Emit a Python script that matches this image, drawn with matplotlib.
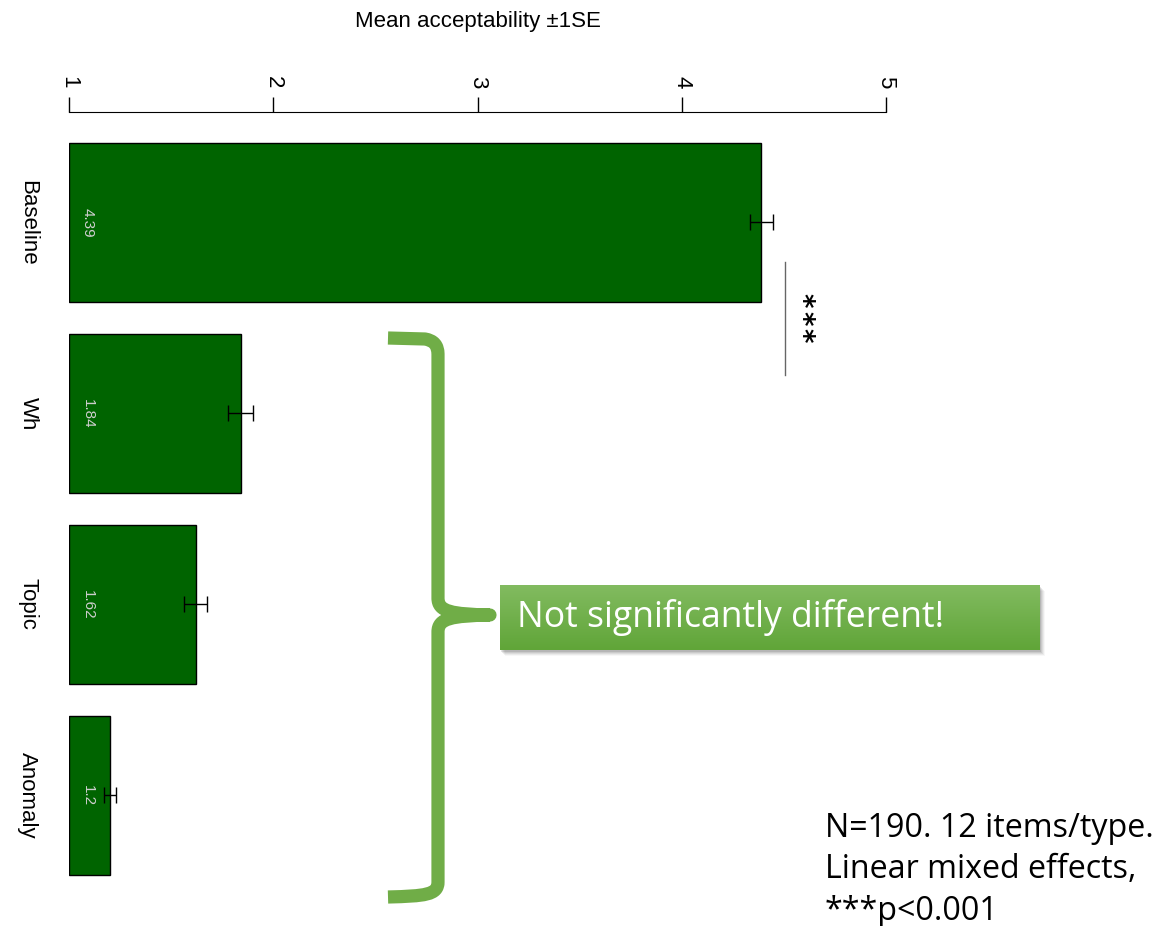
import numpy as np
import matplotlib
matplotlib.use('Agg')
import matplotlib.pyplot as plt
from matplotlib.path import Path
from matplotlib.patches import PathPatch, Rectangle

# data
conditions = ['Baseline', 'Wh', 'Topic', 'Anomaly']
means = [4.39, 1.84, 1.62, 1.2]
se = [0.055, 0.06, 0.055, 0.03]
ticks = [1, 2, 3, 4, 5]

fig = plt.figure(figsize=(11.71, 9.26), dpi=100)
ax = fig.add_axes([69/1171, 1 - 910/926, (886 - 69)/1171, (910 - 112)/926])

ypos = np.arange(len(conditions))
ax.barh(ypos, [m - 1 for m in means], left=1, height=0.83,
        color='#006400', edgecolor='black', lw=1, zorder=2)
ax.errorbar(means, ypos, xerr=se, fmt='none', ecolor='black',
            elinewidth=1, capsize=5.5, capthick=1, zorder=3)
for y, m in zip(ypos, means):
    ax.text(1.093, y, str(m), rotation=-90, ha='center', va='center',
            color='#cfcfcf', fontsize=11, family='Liberation Sans')

# significance marker
ax.plot([4.505, 4.505], [0.207, 0.798], color='#666666', lw=1)
for dy in [-0.092, 0, 0.092]:
    ax.text(4.585, 0.5 + dy, '*', rotation=-90, ha='center', va='center',
            fontsize=20, fontweight='bold', family='DejaVu Sans')

ax.set_xlim(1, 5)
ax.set_ylim(3.5995, -0.5785)
ax.xaxis.tick_top()
ax.xaxis.set_label_position('top')
ax.set_xticks(ticks)
ax.set_xticklabels([str(t) for t in ticks], rotation=-90, fontsize=16,
                   family='Liberation Sans')
ax.tick_params(axis='x', length=11, width=1, pad=6)
ax.set_xlabel('Mean acceptability \u00b11SE', fontsize=16,
              family='Liberation Sans', labelpad=35)
ax.set_yticks(ypos)
ax.set_yticklabels(conditions, rotation=-90, fontsize=16, va='center',
                   family='Liberation Sans')
ax.tick_params(axis='y', length=0, pad=22)
for s in ['left', 'right', 'bottom']:
    ax.spines[s].set_visible(False)

# annotation layer in pixel coordinates
ov = fig.add_axes([0, 0, 1, 1], zorder=5)
ov.set_facecolor('none')
ov.axis('off')

brace_green = '#70AD47'
verts = [(388, 338), (425, 339), (438, 341), (438, 354),
         (438, 598), (438, 612), (452, 614), (490, 615),
         (452, 616), (438, 618), (438, 632),
         (438, 882), (438, 895), (425, 896), (388, 897)]
codes = [Path.MOVETO, Path.LINETO, Path.CURVE3, Path.CURVE3,
         Path.LINETO, Path.CURVE4, Path.CURVE4, Path.CURVE4,
         Path.CURVE4, Path.CURVE4, Path.CURVE4,
         Path.LINETO, Path.CURVE4, Path.CURVE4, Path.CURVE4]
ov.add_patch(PathPatch(Path(verts, codes), fill=False, edgecolor=brace_green,
                       lw=9.5, capstyle='butt', joinstyle='round'))

# shadow + gradient box
for k, a in zip(range(5), [0.10, 0.08, 0.06, 0.05, 0.03]):
    ov.add_patch(Rectangle((500 + 1 + k, 585 + 2 + k), 540, 65,
                           facecolor='black', edgecolor='none', alpha=a))
grad = np.linspace(0, 1, 100).reshape(-1, 1)
top_c = np.array([0x82, 0xBB, 0x60]) / 255
bot_c = np.array([0x60, 0xA5, 0x38]) / 255
img = top_c[None, None, :] * (1 - grad[:, :, None]) + bot_c[None, None, :] * grad[:, :, None]
ov.imshow(img, extent=(500, 1040, 650, 585), aspect='auto', zorder=2)
ov.text(517, 618, 'Not significantly different!', color='white',
        fontsize=25.6, family='Open Sans', ha='left', va='center', zorder=3)

ov.text(825, 812, 'N=190. 12 items/type.\nLinear mixed effects,\n***p<0.001',
        fontsize=23.2, family='Open Sans', ha='left', va='top', linespacing=1.33)

ov.set_xlim(0, 1171)
ov.set_ylim(926, 0)

fig.savefig('out.png', dpi=100)
